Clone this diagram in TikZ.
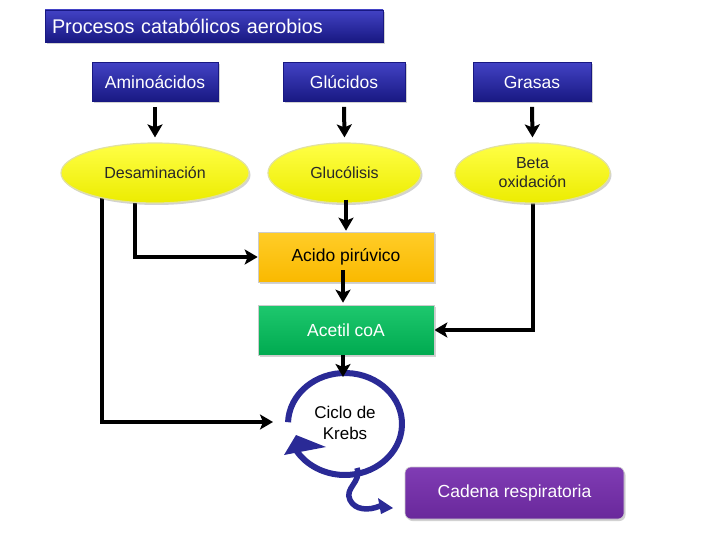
\documentclass[tikz,border=0pt]{standalone}
\usepackage{fontspec}
\setmainfont{Liberation Sans}
\usetikzlibrary{arrows.meta,shapes.geometric,shadows,calc,backgrounds}
\definecolor{bluetop}{RGB}{66,66,196}
\definecolor{bluebot}{RGB}{24,24,130}
\definecolor{yeltop}{RGB}{255,255,70}
\definecolor{yelbot}{RGB}{236,236,0}
\definecolor{yeledge}{RGB}{225,225,160}
\definecolor{orgtop}{RGB}{255,205,40}
\definecolor{orgbot}{RGB}{250,185,0}
\definecolor{grntop}{RGB}{30,200,110}
\definecolor{grnbot}{RGB}{0,170,80}
\definecolor{purtop}{RGB}{128,60,180}
\definecolor{purbot}{RGB}{105,40,155}
\definecolor{krebsblue}{RGB}{42,42,150}
\definecolor{ellgray}{RGB}{40,40,40}
\begin{document}
\begin{tikzpicture}[x=1pt,y=-1pt,
  shad/.style={drop shadow={opacity=0.35,shadow xshift=1.5pt,shadow yshift=-2pt}},
  bluebox/.style={rectangle,top color=bluetop,bottom color=bluebot,draw=bluebot,line width=0.6pt,
    text=white,font=\fontsize{17.5}{20}\selectfont,minimum height=39pt,inner sep=0pt,shad},
  yelell/.style={ellipse,top color=yeltop,bottom color=yelbot,draw=yeledge,line width=1.2pt,
    text=ellgray,font=\fontsize{16}{19}\selectfont,align=center,minimum height=60pt,inner sep=0pt,shad},
  flowbox/.style={rectangle,draw=white!80!black,line width=0.6pt,font=\fontsize{17.5}{20}\selectfont,
    minimum width=176pt,minimum height=50pt,inner sep=0pt,shad},
  arr/.style={line width=4pt,-{Stealth[length=13pt,width=15pt,inset=3pt]}},
  cyc/.style={krebsblue,line width=6pt}
]
\begin{pgfonlayer}{background}
\fill[white] (0,0) rectangle (720,540);
\end{pgfonlayer}
\useasboundingbox (0,0) rectangle (720,540);

% title
\node[bluebox,minimum width=338pt,minimum height=32pt,font=\fontsize{19.8}{22}\selectfont,
  text width=324pt,align=left] (title) at (214,26) {Procesos catabólicos aerobios};

% sources
\node[bluebox,minimum width=126pt] (amino) at (155,82) {Aminoácidos};
\node[bluebox,minimum width=122pt] (gluc) at (344,82) {Glúcidos};
\node[bluebox,minimum width=118pt] (gras) at (532,82) {Grasas};

% processes
\node[yelell,minimum width=188pt] (desam) at (155,173) {Desaminación};
\node[yelell,minimum width=153pt] (gluco) at (344.5,173) {Glucólisis};
\node[yelell,minimum width=155pt] (beta) at (532.5,173) {Beta\\oxidación};

% central boxes
\node[flowbox,top color=orgtop,bottom color=orgbot,text=black] (acido) at (346,257) {Acido pirúvico};
\node[flowbox,top color=grntop,bottom color=grnbot,text=white] (acetil) at (346,330) {Acetil coA};
\node[rectangle,rounded corners=6pt,top color=purtop,bottom color=purbot,draw=white!80!black,
  line width=0.6pt,text=white,font=\fontsize{17.5}{20}\selectfont,minimum width=219pt,
  minimum height=52pt,inner sep=0pt,shad] (cadena) at (514.5,493) {Cadena respiratoria};

% Krebs cycle
\node[align=center,font=\fontsize{17}{21}\selectfont,text=black,inner sep=0pt] (krebs) at (345,423) {Ciclo de\\Krebs};
\coordinate (kc) at (345,424);
\coordinate (ktop) at (343,377);
\coordinate (kin) at (273,422);
\draw[cyc] ($(kc)+(182:57 and 51)$) arc[start angle=182,end angle=508,x radius=57,y radius=51];
\fill[krebsblue] (284,455) -- (296,435) -- (326,447) -- cycle;
\draw[krebsblue,line width=5.5pt] (357,468) .. controls (362,482) and (344,488) .. (350,500)
  .. controls (355,510) and (368,511) .. (380,506);
\fill[krebsblue] (393,508) -- (378,498) -- (381,514) -- cycle;

% connectors
\begin{pgfonlayer}{background}
\draw[arr] ($(desam.center)+(-20,0)$) |- (acido.west);
\draw[arr] ($(desam.center)+(-53,0)$) |- (kin);
\draw[arr] (beta.center) |- (acetil.east);
\end{pgfonlayer}
\draw[arr] ([yshift=-5pt]amino.south) -- ([yshift=5pt]desam.north);
\draw[arr] ([yshift=-5pt]gluc.south) -- ([yshift=5pt]gluco.north);
\draw[arr] ([yshift=-5pt]gras.south) -- ([yshift=5pt]beta.north);
\draw[arr] ([yshift=4pt]gluco.south -| acido.north) -- ([yshift=1pt]acido.north);
\draw[arr] ([xshift=-3pt,yshift=12pt]acido.south) -- ([xshift=-3pt,yshift=2pt]acetil.north);
\draw[arr] ([xshift=-3pt]acetil.south) -- (ktop);
\end{tikzpicture}
\end{document}
